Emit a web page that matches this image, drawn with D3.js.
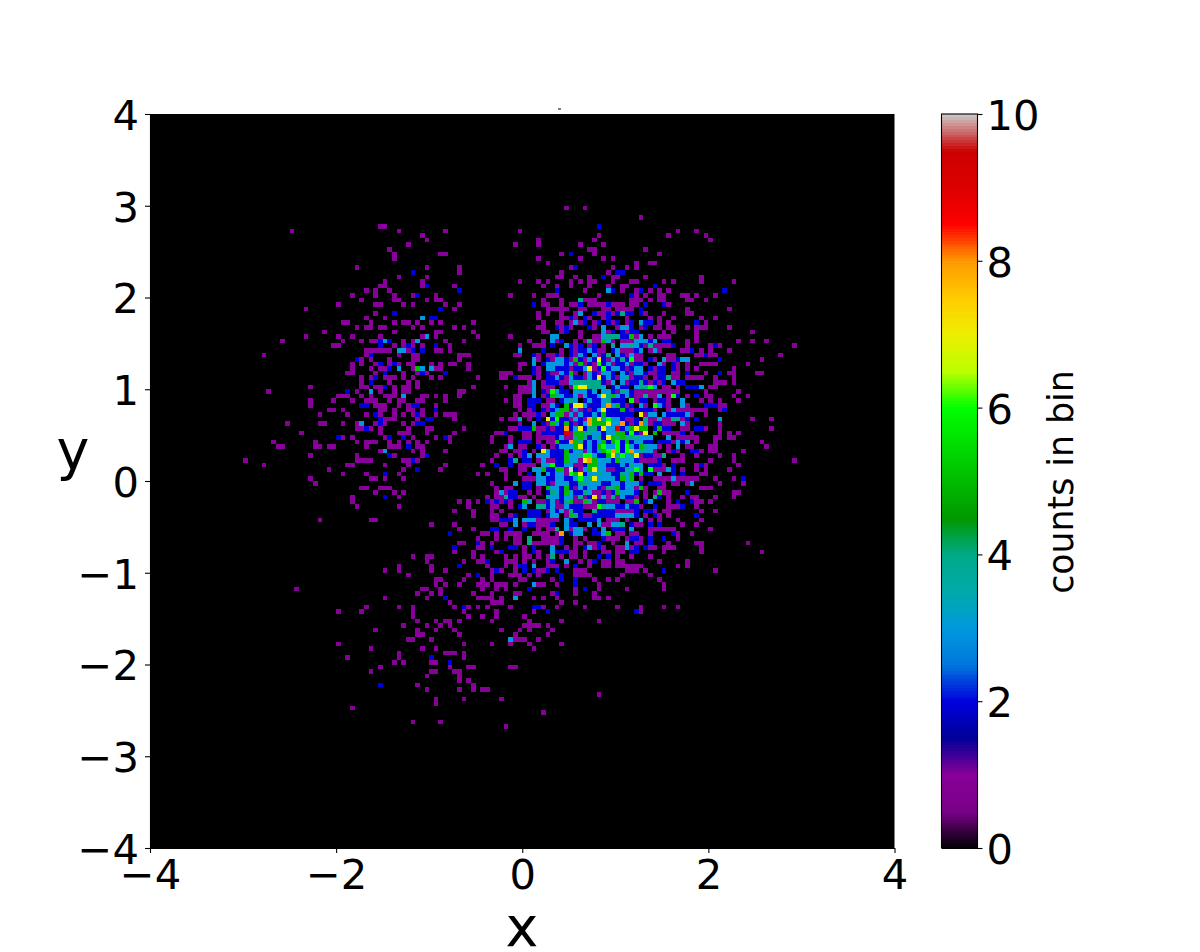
<!DOCTYPE html>
<html>
<head>
<meta charset="utf-8">
<script src="https://cdn.jsdelivr.net/npm/d3@7"></script>
<style>
  body { margin: 0; background: #fff; }
  text { font-family: "DejaVu Sans", sans-serif; fill: #000; }
  .domain, .tick line { stroke: #000; stroke-width: 1.1px; }
  rect.cell, rect.level { shape-rendering: crispEdges; }
</style>
</head>
<body>
<script>
// histogram is 160 x 160 bins over -4..4, rows are counted from the top (y = 4)
var numBins = 160;
var xTicks = [-4, -2, 0, 2, 4];
var yTicks = [-4, -3, -2, -1, 0, 1, 2, 3, 4];
var colorbarTicks = [0, 2, 4, 6, 8, 10];

// nipy_spectral nodes
var cmapStops = ["#000000","#780088","#880099","#000099","#0000dd","#0077dd","#0099dd","#00aaaa","#00aa88","#009900",
                 "#00bb00","#00dd00","#00ff00","#bbff00","#eeee00","#ffcc00","#ff9900","#ff0000","#dd0000","#cc0000","#cccccc"];

// dense part of the right blob, one string per row, first char is column 73, "a" is 10
var coreFirstRow = 52;
var coreFirstCol = 73;
var coreRows = [
".....11..21.1121.2132.3124.32131",
".........31.21332152132721324261",
"......11.3.233332315121623122312",
"......1..21.33222122371262332123",
"..111....21.2113251.1321332.3213",
"..11.2111.1.22321322132723213412",
"........13.1222113444444213.3122",
"...1..1113.111.2.16774443.2322.3",
"......1113.216322.33323.33214321",
".....11..3.125432231322374532321",
"...1.11.222.11.2343.232234222.61",
".....11.22.1132.527732223835212.",
"......1.12.212355131212372225212",
".....1.11121.355131322325222222.",
"..1.113.1.2.72622132185736332112",
"......1..3.215325212385557338212",
"....1122251121228237244273392357",
".112...11.1222229155443323355262",
"1...1..11.1111231145423427545444",
"1...1.222.1.11522854232352562523",
"...13.11..21.1233357232563362632",
"..11.112.1.732225233132356862683",
".1..1.123.3332225334663225736347",
"1...24.22.1311225331785333253332",
".2..2.1111.3362233112553322232432",
"..11..11.33522551a21357331122436",
"...1..1.2.3.32331657233433224352",
"...1...111332233223634733332535",
"1....3.22.3321333224433322332333",
".1.11..22.1.53325213233214452331",
".13122..1.1.24325322431121253332",
".1142211.1..43323314127131413221"
];

// count 1 bins: [row, col, col, ...]
var ones = [
[20,89,93],[22,105],[24,49,50],[25,30,53,63,79,113,117],[26,58,96,111,119],[27,59,83,95,120],[28,55,78,83,92,97],
[29,51,94,95,106],[30,52,62,63,88,95,109],[31,52,83,92,97,99],[32,85,104,107,108],[33,44,59,66,90,99,102,104],
[34,66,88,98],[35,53,59,87,88,91,94,99,100,106,118],[36,50,58,79,83,85,90,92,94,95,99,103,104,110,112,118,125],
[37,49,50,58,65,84,87,90,94,98,101,102],[38,46,48,51,93,101,104,107,109,111],
[39,43,48,52,56,61,77,82,85,86,87,96,104,106,109,110,114,115,117,121],
[40,45,52,53,59,61,62,84,88,93,94,95,103,104,105,107,109,110,115,116,119],
[41,40,48,49,54,56,63,66,84,85,88,90,91,94,95,96,97,99,100,101,103,104,111],
[42,33,65,85,86,87,88,89,92,93,97,98,100,101,102,103,115,124],[43,48,83,85,88,91,96,97,99,106,110,115,116],
[44,46,50,83,88,89,91,94,97,102,107,109,112,118,121],[45,41,42,47,52,54,55,57,60,62,69,84,87,88,90,92,95,99,102,109,111,119],
[46,44,46,47,49,50,56,58,65,67,83,84,88,90,95,100,105,108,109,111,112,115,117,118,119,124],
[47,37,52,61,62,69,84,85,88,92,98,102,110,112,117,129],[48,33,40,43,49,58,61,70,77,92,95,96,104,107,109,110,111,117],
[49,28,41,45,47,48,54,56,63,67,81,84,87,91,93,95,96,99,101,102,103,115,117,126,129,132],
[50,39,40,52,54,56,58,64,79,82,83,84,91,94,97,106,108,109,110,111,115,120,122,138],
[51,46,47,48,49,50,51,55,61,62,64,88,91,96,97,101,102,103,107,109,114,115,118,120,124],
[52,24,46,53,56,57,66,67,68,105,111,112,117,118,120,121,135],[53,45,47,51,56,57,66,105,108,111,112,131],
[54,43,45,48,51,53,55,56,60,62,64,65,68,106,110,113,115,118,119,120,121,128],[55,43,47,49,50,56,61,62,68,108,113,115,117,125],
[56,42,43,48,54,57,59,107,108,112,113,119,124,125,130,131],[57,45,47,50,51,52,54,56,60,62,70,106,108,112,113,115,116,117,118,121,125],
[58,45,51,55,57,107,109,121,122,123,125],[59,34,45,46,48,49,52,54,55,57,69,110,111,113,120,121],
[60,25,44,49,52,54,55,66,67,105,106,107,108,109,110,111,112,113,119,126],[61,40,41,42,45,47,50,51,52,58,59,61,63,66,105,107,108,111,115,119,120,125,128],
[62,34,39,43,46,47,48,51,53,54,57,58,63,108,111,118,120,122,126],[63,34,48,49,50,53,55,61,106,111,115,122,123],
[64,38,39,41,49,50,52,55,56,58,108,111,113,114,115,116,117,118,119,122],[65,36,42,46,49,52,54,56,58,61,63,64,65,106,116,119],
[66,50,51,52,57,65,107,108,110,111,114,129,133],[67,29,36,37,41,44,48,50,54,56,107,110,111,112,115,122],
[68,44,45,47,49,55,59,60,67,114,115,119,122,133],[69,32,49,53,54,55,59,65,105,110,111,112,113,116,122,124,126],
[70,41,43,50,56,61,64,113,114,115,116,117,121,122,124,125],[71,26,35,44,46,47,48,51,53,55,57,59,64,112,117,121,131],
[72,27,28,35,36,38,39,46,51,52,53,57,58,109,111,115,116,120,121,132],[73,49,56,58,63,108,111,113,118,120,121,127],
[74,34,44,52,58,105,108,109,114,117,122,125],[75,20,44,45,46,47,54,55,57,105,106,107,108,112,113,114,120,125,138],
[76,24,42,43,50,55,63,71,110,117,119,126],[77,38,54,62,108,109,110,114,117,119,124],[78,41,46,53,70,72,118,119],
[79,34,47,48,50,54,105,108,109,110,111,113,114,115,116,117,121,125],[80,35,110,112,113,115,122,127],
[81,45,46,49,50,51,106,109,110,118,119,120],[82,48,52,54,106,108,110,111,125,126],[83,43,53,72,106,111,114,116,117,121,125],
[84,43,66,68,70,73,75,77,83,84,87,91,92,95,98,99,100,102,103,111,117,118,120],
[85,44,53,68,73,74,77,87,88,93,94,95,105,111,112,113,117],
[86,65,69,73,75,85,89,100,101,102,103,108,110,111,118,121],[87,69,73,74,77,89,93,94,106,109,111],
[88,36,47,48,73,74,83,84,85,86,87,98,99,100,102,107,109,113,118],[89,60,65,75,76,80,83,84,85,97,98,104,105,114,117],
[90,66,69,83,85,86,90,93,107,108,109,110,111,112,120],[91,71,72,74,76,77,78,79,82,83,84,85,87,100,101,103,104,107,113,116],
[92,70,74,76,78,79,84,85,86,87,91,93,98,99,100,102,105,113],[93,66,67,71,73,78,79,82,83,84,85,86,87,91,92,94,95,99,104,105,111,117,118,128],
[94,70,71,80,89,91,95,97,100,101,103,107,108,110,111,112,118],
[95,65,69,74,80,83,90,91,93,97,98,100,101,110,118,131],[96,56,59,60,69,71,76,78,80,81,83,85,88,90,91,93,100,103,107],
[97,59,67,70,71,76,77,78,80,82,85,92,94,97,98,100,101,109,115],[98,53,60,72,76,78,85,86,87,89,94,97,98,100,101,102,103,104,105,113,115],
[99,50,53,60,63,73,75,78,83,84,91,92,93,102,103,104,106,121],[100,55,68,73,77,78,79,81,83,91,92,93,94,101,107],
[101,61,62,67,71,73,79,80,86,95,98,100,109],[102,61,63,66,70,71,72,74,75,76,78,83,84,87,96,110],
[103,31,58,59,62,71,74,76,91,96,102,110],[104,57,60,62,69,73,78,79,86,91,95],[105,50,59,70,71,72,73,75,82,84,87,95,96,98],
[106,64,73,74,75,88,91],[107,46,53,56,65,68,70,72,77,84,87,93,100,105,110,113],[108,40,45,56,67,74,82,105],
[109,56,68,71,74,80],[110,57,61,63,64,66,73,81,88,96],[111,54,59,62,64,80,81,82,83,85],[112,48,57,61,65,75,79,81,86],
[113,57,58,66,78,85],[114,55,56,60,78,79,80,83],[115,40,67,73,77,81,88],[116,47,58,61,82],[117,53,63,64,65,67],
[118,42,53,67],[119,52,54,60,61],[120,49,64,68,69,77,78],[121,47,60,61,65,66],[122,59,66],[123,66,68],[124,57,69],
[125,59,66,69,71,72],[126,96],[127,61,67,75],[128,61],[129,43],[130,84],[132,56,62],[133,76]
];

var twos = [
[24,96],[30,90],[33,91],[34,56,100,101],[35,97],[37,59,108],[38,66,87,99,105,123],[39,57,103],[41,82,92,98,106,110],[42,62,105],
[43,52,95,98,100,102,103,105],[44,60,61,90,93,98],[45,93,96,98,100,103,106,107,117],[46,87,89,94,103,106],[47,89,99,101,103,104],
[48,101,102],[49,49,51,88,107,110,111],[50,49,55,61,86,90,92,95,105,112,121],[51,56,58,84,90,92,93,95,99,104,116],[52,47,119],
[53,44,107,113,122],[54,49,52,105,112],[55,51,107,109,110,112],[56,50,58,63,106,109,110,115,122],[57,48,105,109,110],
[58,47,106,108,110,113,114],[59,50,115,116,117],[60,42],[61,113,117],[62,105,106,109,110],[63,45,46,56,57,110,119,120,121],
[64,61,105,106,107,123],[65,48,57,111,112,113,114],[66,49,59,60,115,117],[67,49,57,58,108,109],[68,46,108,110,111,117,118],
[69,114],[70,40,51,54,63],[71,106,107,109,110,111,114],[72,55],[73,112,116,117],[74,51,59,106,107],[75,56,109],
[76,107,108,109,112,118],[77,57,112],[78,50,106,107,112,114],[79,127],[80,105,107,108,109],[82,115],[83,50,109],
[84,72,74,76,85,88,96,97,106,113,116],[85,79,85,90,91,92,100,101,103,104,108,114],[86,81,82,83,87,91,92,96,97,98,99,104,106,107],
[87,78,81,82,83,85,92,95,96,97,98,99,104,108,117],[88,75,76,77,90,92,93,94,95],[89,81,82,86,90,91,103,107,109],
[90,73,74,77,80,95,99,100,101],[91,64,90,95,96,112],[92,88,97,103,104,107,110],[93,70,88,96,107],[94,65,73,77,78,82,93,96,104,106],
[95,75,82,87,88,89,103,104],[96,96,98],[97,72,86,95],[98,66,79,80,91],[99,74,80,82,85,87,110],[100,70,88],[101,88,91],
[102,91],[103,81,93],[104,87],[105,63],[107,67,82,83],[108,85,104],[118,60],[119,64],[124,49]
];

var threes = [
[38,98],[43,92],[44,58],[45,91,105],[46,97,101,102],[47,97],[48,59,86,87,97,105],[49,50,57,86,98,104,105,106,108],
[50,89,101,102,104],[51,53,54,79,94,100,105,108],[53,110,114,115],[54,109],[55,53,58,60,105],[56,105],[58,112],[59,108,118],
[60,47],[61,54,109],[62,114],[63,105,109,114],[64,112],[65,107,108,110,115],[66,109,122],[67,45,106,114],[70,105,106,107,111],
[71,105,113,115],[72,107,108,113],[73,50,106,107],[76,105],[77,105,111],[78,109],[79,112],[80,116],[84,81,86,107],
[85,80,86,89,98,99,102],[86,86,88],[87,86,87,100,101,102,103],[88,78,80,81,82,89,96,105],[89,78,89,94,96,99,100],
[90,89,91,92,97,103],[91,91,92,97],[93,102],[94,86,94,102],[95,86],[97,89],[98,82],[102,82],[105,78],[114,77]
];

var fours = [
[40,92],[43,101],[48,98,99,100],[49,94],[50,99,103,107],[57,111],[58,105],[59,105,106],[61,106],[66,106,112,113],[72,106],[73,105],[74,110],
[83,108],[84,89,94],[85,83,84,97],[86,90,95],[87,91],[89,101],[90,87],[92,81],[93,81],[96,86]
];

var fives = [
[48,103],[49,97],[55,57],[68,105,106,109],[69,108],[72,105],[78,105],[81,105],[82,109],[84,80,90,93,104],[87,90],[91,98]
];

var sixes = [[59,107],[61,112],[63,108],[77,107],[85,96]];
var sevens = [[65,105],[69,106]];
var eights = [[67,105],[91,88]];

var svgWidth = 1200;
var svgHeight = 952;
var margin = {top: 114, left: 150};
var width = 744.5;
var height = 734;

var svg = d3.select("body")
            .append("svg")
            .attr("width", svgWidth)
            .attr("height", svgHeight)
            .style("display", "block");

var chartGroup = svg.append("g")
                    .attr("transform", `translate(${margin.left}, ${margin.top})`);

var xScale = d3.scaleLinear().domain([-4, 4]).range([0, width]);
var yScale = d3.scaleLinear().domain([-4, 4]).range([height, 0]);

// colour scale: value 0..10 to the colormap, in 256 levels like the colorbar
var cmap = d3.scaleLinear()
             .domain(cmapStops.map((c, i) => i / 2))
             .range(cmapStops)
             .interpolate(d3.interpolateRgb);

// collect all bins as {x, y, count}, with x and y the low edges of the bin
var binSize = 8 / numBins;
var cells = [];
function addBin(row, col, count) {
  cells.push({x: -4 + col * binSize, y: 4 - (row + 1) * binSize, count: count});
}
coreRows.forEach(function(line, i) {
  line.split("").forEach(function(ch, j) {
    if (ch !== ".") addBin(coreFirstRow + i, coreFirstCol + j, parseInt(ch, 16));
  });
});
[[ones, 1], [twos, 2], [threes, 3], [fours, 4], [fives, 5], [sixes, 6], [sevens, 7], [eights, 8]].forEach(function(level) {
  level[0].forEach(function(r) {
    r.slice(1).forEach(c => addBin(r[0], c, level[1]));
  });
});

chartGroup.append("rect")
          .attr("width", width)
          .attr("height", height)
          .attr("fill", "#000");

chartGroup.selectAll("rect.cell")
          .data(cells)
          .enter()
          .append("rect")
          .classed("cell", true)
          .attr("x", d => xScale(d.x))
          .attr("y", d => yScale(d.y + binSize))
          .attr("width", d => xScale(d.x + binSize) - xScale(d.x))
          .attr("height", d => yScale(d.y) - yScale(d.y + binSize))
          .attr("fill", d => cmap(d.count));

// axes
var bottomAxis = d3.axisBottom(xScale).tickValues(xTicks).tickSize(5).tickSizeOuter(0).tickPadding(6);
var leftAxis = d3.axisLeft(yScale).tickValues(yTicks).tickSize(5).tickSizeOuter(0).tickPadding(6);

chartGroup.append("g")
          .attr("transform", `translate(0, ${height})`)
          .call(bottomAxis)
          .selectAll("text").style("font-size", "41.67px").style("font-family", "DejaVu Sans");

var yAxisG = chartGroup.append("g").call(leftAxis);
yAxisG.selectAll("text").attr("dy", "0.37em").style("font-size", "41.67px").style("font-family", "DejaVu Sans");

svg.append("text")
   .attr("x", 522)
   .attr("y", 946)
   .attr("text-anchor", "middle")
   .style("font-size", "55.5px")
   .text("x");

svg.append("text")
   .attr("x", 73)
   .attr("y", 469)
   .attr("text-anchor", "middle")
   .style("font-size", "55.5px")
   .text("y");

// small dash just above the image
svg.append("rect")
   .attr("x", 558)
   .attr("y", 108.5)
   .attr("width", 3)
   .attr("height", 1)
   .attr("fill", "#000");

// colorbar
var cbLeft = 941.5;
var cbWidth = 36;
var cbGroup = svg.append("g")
                 .attr("transform", `translate(${cbLeft}, ${margin.top})`);
var cbScale = d3.scaleLinear().domain([0, 10]).range([height, 0]);
var levels = d3.range(256);

cbGroup.selectAll("rect.level")
       .data(levels)
       .enter()
       .append("rect")
       .classed("level", true)
       .attr("x", 0)
       .attr("y", d => cbScale((d + 1) * 10 / 256))
       .attr("width", cbWidth)
       .attr("height", d => cbScale(d * 10 / 256) - cbScale((d + 1) * 10 / 256) + 0.5)
       .attr("fill", d => cmap((d + 0.5) * 10 / 256));

cbGroup.append("rect")
       .attr("width", cbWidth)
       .attr("height", height)
       .attr("fill", "none")
       .attr("stroke", "#000")
       .attr("stroke-width", 1.1);

var cbAxis = d3.axisRight(cbScale).tickValues(colorbarTicks).tickSize(5).tickSizeOuter(0).tickPadding(4).tickFormat(d3.format("d"));
var cbAxisG = cbGroup.append("g")
       .attr("transform", `translate(${cbWidth}, 0)`)
       .call(cbAxis)
       .call(g => g.select(".domain").remove());
cbAxisG.selectAll("text").attr("dy", "0.37em").style("font-size", "41.67px").style("font-family", "DejaVu Sans");

svg.append("text")
   .attr("transform", "translate(1073, 482) rotate(-90)")
   .attr("text-anchor", "middle")
   .style("font-size", "34.72px")
   .text("counts in bin");
</script>
</body>
</html>
